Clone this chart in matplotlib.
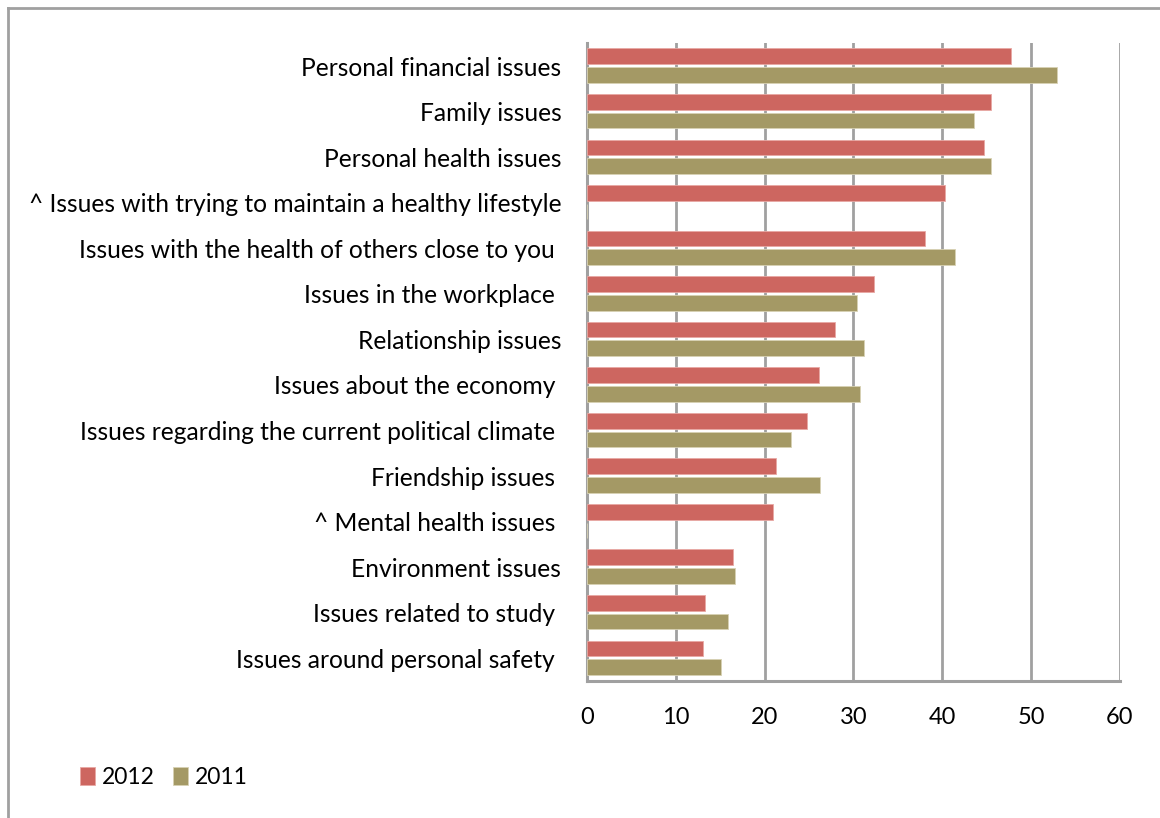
import matplotlib
matplotlib.use('Agg')
import matplotlib.pyplot as plt
import numpy as np

# survey categories, top to bottom (labels keep their trailing spaces)
categories = [
    'Personal financial issues',
    'Family issues',
    'Personal health issues',
    '^ Issues with trying to maintain a healthy lifestyle',
    'Issues with the health of others close to you ',
    'Issues in the workplace ',
    'Relationship issues',
    'Issues about the economy ',
    'Issues regarding the current political climate ',
    'Friendship issues ',
    '^ Mental health issues ',
    'Environment issues',
    'Issues related to study ',
    'Issues around personal safety ',
]

# percentages per year (None = not asked that year)
values_2012 = [47.7, 45.5, 44.7, 40.3, 38.0, 32.3, 27.9, 26.1, 24.8, 21.3, 20.9, 16.4, 13.3, 13.1]
values_2011 = [52.9, 43.6, 45.5, None, 41.4, 30.4, 31.2, 30.7, 23.0, 26.2, None, 16.7, 15.9, 15.1]

x_ticks = [0, 10, 20, 30, 40, 50, 60]

RED = '#CD6660'
OLIVE = '#A49965'
GRID = '#A0A0A0'

plt.rcParams['font.family'] = ['Lato', 'DejaVu Sans']

fig = plt.figure(figsize=(11.6, 8.18), dpi=100)
ax = fig.add_axes([0.506, 0.1675, 0.4595, 0.7795])

pos = np.arange(len(categories))
v12 = np.array([np.nan if v is None else v for v in values_2012])
v11 = np.array([np.nan if v is None else v for v in values_2011])

bar_h = 0.345
ax.barh(pos - 0.215, np.nan_to_num(v12), height=bar_h, color=RED,
        edgecolor='#E8A8A4', linewidth=0.6, zorder=3, label='2012')
ax.barh(pos + 0.195, np.nan_to_num(v11), height=bar_h, color=OLIVE,
        edgecolor='#D8D2B4', linewidth=0.6, zorder=3, label='2011')

ax.set_xlim(0, 60)
ax.set_ylim(len(categories) - 0.5, -0.5)
ax.set_xticks(x_ticks)
ax.set_yticks(pos)
ax.set_yticklabels(categories, fontsize=17.7)

ax.grid(axis='x', color=GRID, linewidth=2, zorder=0)
ax.grid(axis='y', visible=False)
for side in ['top', 'right']:
    ax.spines[side].set_visible(False)
for side in ['left', 'bottom']:
    ax.spines[side].set_color(GRID)
    ax.spines[side].set_linewidth(2.2)
ax.tick_params(axis='both', length=0, colors='black')
ax.tick_params(axis='x', labelsize=17, pad=19)
ax.tick_params(axis='y', pad=18.5)

# legend squares at the bottom left
handles, labels = ax.get_legend_handles_labels()
leg = fig.legend(handles, labels, loc='center left', bbox_to_anchor=(0.051, 0.05),
                 ncol=2, frameon=False, fontsize=16.5, handlelength=0.65,
                 handleheight=0.85, handletextpad=0.3, columnspacing=0.8)

# outer chart border (top and left edges visible)
fig.add_artist(plt.Line2D([0.0065, 0.0065], [0.0, 0.9905], color=GRID, linewidth=2,
                          transform=fig.transFigure))
fig.add_artist(plt.Line2D([0.0065, 1.0], [0.9905, 0.9905], color=GRID, linewidth=2,
                          transform=fig.transFigure))

fig.savefig('out.png', dpi=100)
